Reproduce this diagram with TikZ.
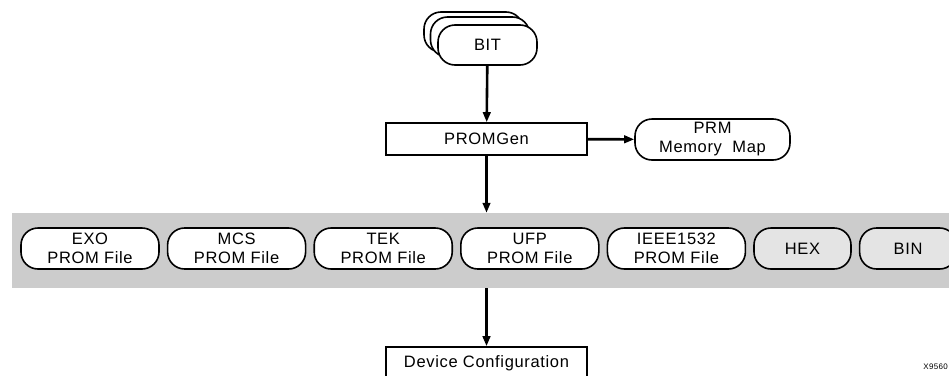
\documentclass[tikz,border=0pt]{standalone}
\usepackage{fontspec}
\setmainfont{Liberation Sans}[LetterSpace=4]
\usetikzlibrary{arrows.meta,positioning}
\definecolor{band}{HTML}{CCCCCC}
\definecolor{lite}{HTML}{E4E4E4}
\tikzset{
  >={Triangle[length=10pt,width=7.5pt]},
  box/.style={draw=black,line width=1.6pt,inner sep=1pt,align=center,font=\fontsize{16.5}{19}\selectfont,fill=white},
  rbox/.style={box,rounded corners=17pt,minimum height=41pt},
  sbox/.style={box,minimum width=201pt,minimum height=32pt},
  arr/.style={->,draw=black,line width=2.6pt},
}

\begin{document}
\begin{tikzpicture}[x=1pt,y=-1pt,node distance=7pt,
  fbox/.style={rbox,minimum width=138pt},
  gbox/.style={rbox,fill=lite,minimum width=97pt}]
\useasboundingbox (0,0) rectangle (949,375);
% grey band behind the output formats
\node[fill=band,minimum width=937pt,minimum height=75pt,inner sep=0pt] (band) at (480.5,250.5) {};
% stacked input files
\node[rbox,minimum width=99pt,minimum height=40pt] (bit3) at (473.5,32) {};
\node[rbox,minimum width=99pt,minimum height=40pt] (bit2) at (480,37) {};
\node[rbox,minimum width=99pt,minimum height=40pt] (bit) at (487.5,45) {BIT};
\node[sbox] (prom) at (486.5,139) {PROMGen};
\node[rbox,minimum width=155pt] (prm) at (712.5,139.5) {PRM\\Memory\ \ Map};
% output formats
\node[fbox] (exo) at (90,248.5) {EXO\\PROM File};
\node[fbox,right=of exo] (mcs) {MCS\\PROM File};
\node[fbox,right=of mcs] (tek) {TEK\\PROM File};
\node[fbox,right=of tek] (ufp) {UFP\\PROM File};
\node[fbox,right=of ufp] (ieee) {IEEE1532\\PROM File};
\node[gbox,right=of ieee] (hex) {HEX};
\node[gbox,right=of hex] (bin) {BIN};
\node[sbox] (dev) at (486.5,363) {Device Configuration};
\node[font=\fontsize{8}{9}\selectfont,anchor=east,inner sep=0pt] (fig) at (948,367) {X9560};
\draw[arr] (bit) -- (prom);
\draw[arr] (prom) -- (prm);
\draw[arr] (prom) -- (prom |- band.north);
\draw[arr] (band.south -| dev) -- (dev);
\end{tikzpicture}
\end{document}
